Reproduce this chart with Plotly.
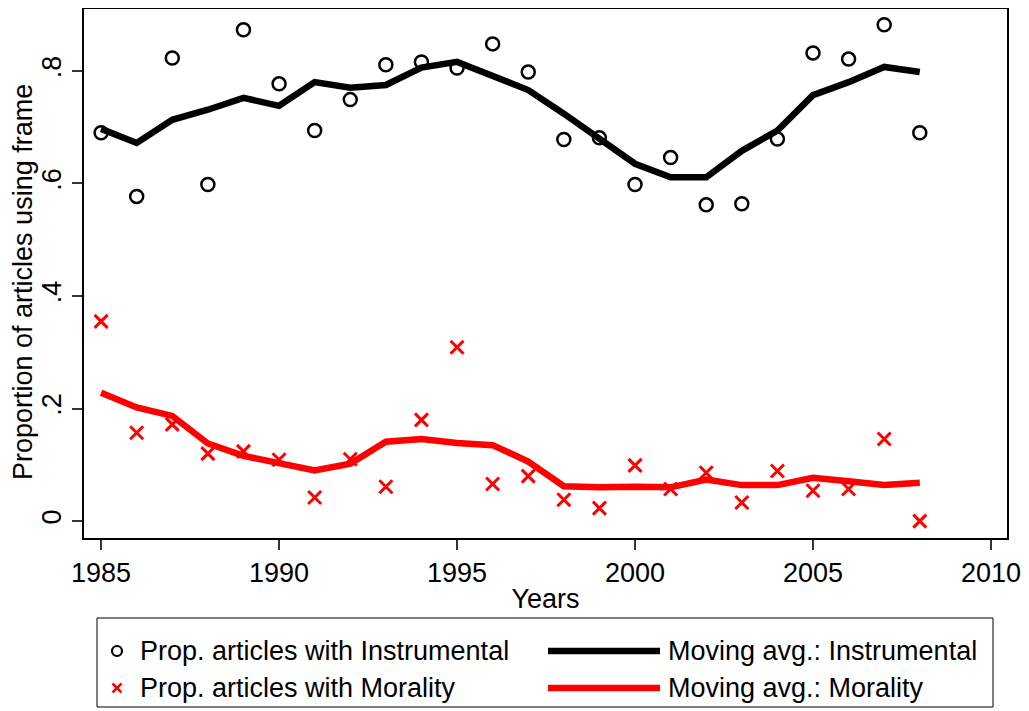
import plotly.graph_objects as go

years = list(range(1985, 2009))

instr_prop = [0.690, 0.577, 0.823, 0.598, 0.873, 0.777, 0.694, 0.749, 0.811, 0.816,
              0.805, 0.848, 0.798, 0.678, 0.681, 0.598, 0.646, 0.562, 0.564, 0.679,
              0.832, 0.821, 0.882, 0.690]
instr_avg = [0.697, 0.672, 0.713, 0.731, 0.752, 0.738, 0.780, 0.770, 0.775, 0.806,
             0.816, 0.791, 0.766, 0.724, 0.679, 0.635, 0.611, 0.611, 0.658, 0.694,
             0.757, 0.780, 0.807, 0.798]
moral_prop = [0.355, 0.157, 0.172, 0.120, 0.124, 0.109, 0.042, 0.110, 0.061, 0.180,
              0.309, 0.066, 0.080, 0.038, 0.023, 0.099, 0.057, 0.086, 0.033, 0.089,
              0.054, 0.057, 0.146, 0.000]
moral_avg = [0.228, 0.202, 0.187, 0.138, 0.116, 0.104, 0.090, 0.102, 0.141, 0.146,
             0.139, 0.135, 0.106, 0.062, 0.060, 0.061, 0.060, 0.074, 0.064, 0.064,
             0.077, 0.071, 0.064, 0.068]

y_ticks = [0, 0.2, 0.4, 0.6, 0.8]
y_ticktext = ["0", ".2", ".4", ".6", ".8"]
x_ticks = [1985, 1990, 1995, 2000, 2005, 2010]

legend_labels = [
    "Prop. articles with Instrumental",
    "Prop. articles with Morality",
    "Moving avg.: Instrumental",
    "Moving avg.: Morality",
]

FONT = "Liberation Sans, Arial, sans-serif"
FS = 27
# the page body has an 8px margin, so the figure is shrunk by that and
# all pixel positions below are given in page coordinates
OFF = 8
W, H = 1029 - OFF, 711 - OFF
L, R, T, B = 84 - OFF, 22, 8 - OFF + 1, 173


def px_x(px):
    return (px - OFF - L) / (W - L - R)


def px_y(py):
    return (H - B - (py - OFF)) / (H - B - T)


fig = go.Figure()
fig.add_trace(go.Scatter(
    x=years, y=instr_avg, mode="lines",
    line=dict(color="black", width=6.5), name=legend_labels[2],
))
fig.add_trace(go.Scatter(
    x=years, y=moral_avg, mode="lines",
    line=dict(color="red", width=6.5), name=legend_labels[3],
))
fig.add_trace(go.Scatter(
    x=years, y=instr_prop, mode="markers",
    marker=dict(symbol="circle-open", size=13, color="black", line=dict(width=2.5)),
    name=legend_labels[0],
))
fig.add_trace(go.Scatter(
    x=years, y=moral_prop, mode="markers",
    marker=dict(symbol="x-thin-open", size=13, color="red", line=dict(width=3, color="red")),
    name=legend_labels[1],
))

# hand-drawn legend box below the plot, Stata style
shapes = [
    dict(type="rect", xref="paper", yref="paper",
         x0=px_x(97), x1=px_x(993), y0=px_y(707), y1=px_y(618),
         line=dict(color="black", width=1), fillcolor="white", layer="below"),
    dict(type="circle", xref="paper", yref="paper", xsizemode="pixel", ysizemode="pixel",
         xanchor=px_x(117), yanchor=px_y(651), x0=-5, x1=5, y0=-5, y1=5,
         line=dict(color="black", width=2.2)),
    dict(type="line", xref="paper", yref="paper", xsizemode="pixel", ysizemode="pixel",
         xanchor=px_x(117), yanchor=px_y(688), x0=-4.5, x1=4.5, y0=-4.5, y1=4.5,
         line=dict(color="red", width=2.5)),
    dict(type="line", xref="paper", yref="paper", xsizemode="pixel", ysizemode="pixel",
         xanchor=px_x(117), yanchor=px_y(688), x0=-4.5, x1=4.5, y0=4.5, y1=-4.5,
         line=dict(color="red", width=2.5)),
    dict(type="line", xref="paper", yref="paper",
         x0=px_x(548), x1=px_x(660), y0=px_y(651), y1=px_y(651),
         line=dict(color="black", width=6.5)),
    dict(type="line", xref="paper", yref="paper",
         x0=px_x(548), x1=px_x(660), y0=px_y(688), y1=px_y(688),
         line=dict(color="red", width=6.5)),
]

annotations = []
for label, (lx, ly) in zip(legend_labels, [(138, 651), (138, 688), (666, 651), (666, 688)]):
    annotations.append(dict(
        text=label, xref="paper", yref="paper", x=px_x(lx), y=px_y(ly),
        xanchor="left", yanchor="middle", showarrow=False,
        font=dict(size=FS, color="black", family=FONT),
    ))
# y axis title as an annotation so its position is pinned
annotations.append(dict(
    text="Proportion of articles using frame", xref="paper", yref="paper",
    x=px_x(23), y=px_y(282), xanchor="center", yanchor="middle",
    textangle=-90, showarrow=False,
    font=dict(size=FS, color="black", family=FONT),
))

fig.update_layout(
    width=W, height=H,
    margin=dict(l=L, r=R, t=T, b=B),
    plot_bgcolor="white",
    paper_bgcolor="white",
    showlegend=False,
    font=dict(family=FONT, color="black", size=FS),
    shapes=shapes,
    annotations=annotations,
)
fig.update_xaxes(
    range=[1984.52, 2010.45],
    tickvals=x_ticks,
    ticks="outside", ticklen=10, tickwidth=1.5, tickcolor="#333",
    showline=True, linecolor="black", linewidth=1.5, mirror=True,
    showgrid=False, zeroline=False, automargin=False,
    tickfont=dict(size=FS),
    title=dict(text="Years", font=dict(size=FS), standoff=2),
)
fig.update_yaxes(
    range=[-0.030, 0.910],
    tickvals=y_ticks, ticktext=y_ticktext, tickangle=-90,
    ticks="outside", ticklen=10, tickwidth=1.5, tickcolor="#333",
    showline=True, linecolor="black", linewidth=1.5, mirror=True,
    showgrid=False, zeroline=False, automargin=False,
    tickfont=dict(size=FS),
)

fig.write_html("out.html")
